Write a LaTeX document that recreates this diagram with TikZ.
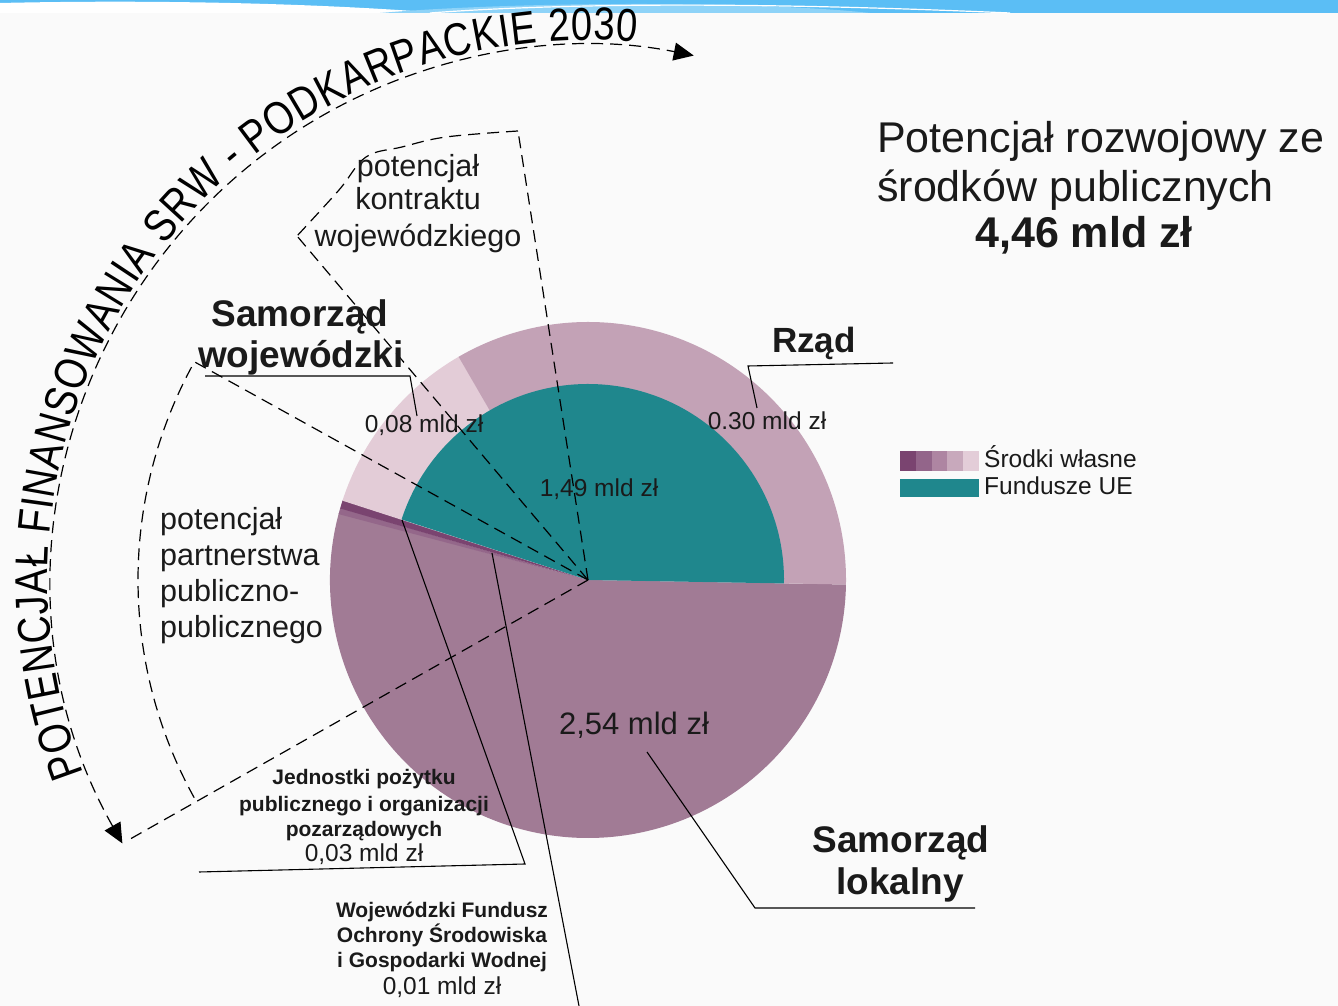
\documentclass[tikz,border=0pt]{standalone}
\usepackage{fontspec}
\setmainfont{Liberation Sans}
\newfontfamily\arcfont[FakeStretch=0.83]{Liberation Sans}
\newcommand\arcfmt{\arcfont\fontsize{46}{50}\selectfont}
\usetikzlibrary{arrows.meta,decorations.text}
\definecolor{bg}{HTML}{FAFAFA}
\definecolor{bandblue}{HTML}{5BBEF5}
\definecolor{bandlight}{HTML}{8ED3F8}
\definecolor{tealue}{HTML}{1F878D}
\definecolor{rzad}{HTML}{C3A2B6}
\definecolor{woj}{HTML}{E3CCD7}
\definecolor{lokal}{HTML}{A17B95}
\definecolor{jedn}{HTML}{7A4470}
\definecolor{wfos}{HTML}{94678A}
\definecolor{swA}{HTML}{7A4470}
\definecolor{swB}{HTML}{93658A}
\definecolor{swC}{HTML}{AE85A2}
\definecolor{swD}{HTML}{C8A9BC}
\definecolor{swE}{HTML}{E3CDD8}
\definecolor{ink}{HTML}{1A1A1A}
\tikzset{bigtri/.tip={Triangle[length=20pt,width=18pt]}}
\begin{document}
\begin{tikzpicture}[x=1pt,y=1pt,
  dsh/.style={draw=black, line width=1.2pt, dash pattern=on 12pt off 7pt},
  lead/.style={draw=black, line width=1.1pt},
  lbl/.style={inner sep=0pt, anchor=base, text=ink},
  val/.style={lbl, font=\fontsize{24.5}{29}\selectfont},
  pot/.style={lbl, font=\fontsize{30.5}{36}\selectfont},
  bigb/.style={lbl, font=\bfseries\fontsize{37}{42}\selectfont},
  smb/.style={lbl, font=\bfseries\fontsize{21}{25}\selectfont},
  tit/.style={lbl, font=\fontsize{43}{50}\selectfont}
]
\useasboundingbox (0,0) rectangle (1338,1006);
% background and top band
\fill[bg] (0,0) rectangle (1338,1006);
\fill[bandblue] (0,993) rectangle (1338,1006);
\fill[white] (0,993) -- (0,1003) .. controls (180,1007) and (340,1001) .. (440,993) -- cycle;
\fill[bandlight] (380,993) .. controls (520,1005) and (760,1005) .. (870,993) -- cycle;
\draw[white, line width=1.2pt] (430,993) .. controls (560,1003) and (760,1004) .. (1010,993);

\coordinate (O) at (588,426);

% pie
\fill[lokal] (O) -- ++(165:258) arc[start angle=165,end angle=359,radius=258pt] -- cycle;
\fill[wfos] (O) -- ++(163.8:258) arc[start angle=163.8,end angle=165.2,radius=258pt] -- cycle;
\fill[jedn] (O) -- ++(162:258) arc[start angle=162,end angle=163.9,radius=258pt] -- cycle;
\fill[woj] (O) -- ++(120:258) arc[start angle=120,end angle=162.1,radius=258pt] -- cycle;
\fill[rzad] (O) -- ++(-1:258) arc[start angle=-1,end angle=120.1,radius=258pt] -- cycle;
\fill[tealue] (O) -- ++(-1:196) arc[start angle=-1,end angle=162,radius=196pt] -- cycle;

% dashed sectors
\coordinate (k1) at (518,875);
\coordinate (k6) at (297,770);
\draw[dsh] (O) -- (k1);
\draw[dsh] (O) -- (k6);
\draw[dsh] plot[smooth, tension=0.6] coordinates {(518,875) (446,869) (402,859) (366,849) (339,816) (297,770)};
\draw[dsh] (O) -- ++(151:450) arc[start angle=151,end angle=209.5,radius=450pt];
\draw[dsh] (O) -- ++(209.5:528);
\draw[dsh, bigtri-bigtri] (O) ++(209.5:535) arc[start angle=209.5,end angle=78.6,radius=535pt];

% arc text
\path[decorate, decoration={text along path, text align={fit to path},
  text={|\arcfmt|POTENCJAŁ FINANSOWANIA SRW - PODKARPACKIE 2030}}]
  (O) ++(201:540) arc[start angle=201,end angle=84.8,radius=540pt];

% leader lines
\coordinate (rzP) at (757,598); \coordinate (rzK) at (748,640); \coordinate (rzE) at (893,643);
\draw[lead] (rzP) -- (rzK) -- (rzE);
\coordinate (wjS) at (205,630); \coordinate (wjK) at (410,630); \coordinate (wjP) at (417,590);
\draw[lead] (wjS) -- (wjK) -- (wjP);
\coordinate (lkP) at (647,254); \coordinate (lkK) at (755,98); \coordinate (lkE) at (975,98);
\draw[lead] (lkP) -- (lkK) -- (lkE);
\coordinate (jdS) at (199,134); \coordinate (jdK) at (525,142); \coordinate (jdP) at (402,486);
\draw[lead] (jdS) -- (jdK) -- (jdP);
\coordinate (wfE) at (579,0); \coordinate (wfP) at (492,453);
\draw[lead] (wfE) -- (wfP);

% title
\node[tit, anchor=base west] (t1) at (877,853) {Potencjał rozwojowy ze};
\node[tit, anchor=base west] (t2) at (877,804) {środków publicznych};
\node[tit, font=\bfseries\fontsize{43}{50}\selectfont] (t3) at (1084,758) {4,46 mld zł};

% legend
\fill[swA] (900,535) rectangle (915.8,555);
\fill[swB] (915.8,535) rectangle (931.6,555);
\fill[swC] (931.6,535) rectangle (947.4,555);
\fill[swD] (947.4,535) rectangle (963.2,555);
\fill[swE] (963.2,535) rectangle (979,555);
\fill[tealue] (900,509) rectangle (979,527);
\node[lbl, anchor=base west, font=\fontsize{24.5}{29}\selectfont] (lg1) at (984,538) {Środki własne};
\node[lbl, anchor=base west, font=\fontsize{24.5}{29}\selectfont] (lg2) at (984,511) {Fundusze UE};

% values in pie
\node[val] (v08) at (424,573) {0,08 mld zł};
\node[val] (v149) at (599,509) {1,49 mld zł};
\node[val] (v030) at (767,576) {0.30 mld zł};
\node[lbl, font=\fontsize{31}{36}\selectfont] (v254) at (634,271) {2,54 mld zł};

% bold labels
\node[lbl, font=\bfseries\fontsize{35}{40}\selectfont] (rz) at (814,653) {Rząd};
\node[bigb] (sw1) at (300,679) {Samorząd};
\node[bigb] (sw2) at (301,638) {wojewódzki};
\node[bigb] (sl1) at (901,153) {Samorząd};
\node[bigb] (sl2) at (900,111) {lokalny};

% potential labels
\node[pot] (pk1) at (418,829) {potencjał};
\node[pot] (pk2) at (418,796) {kontraktu};
\node[pot] (pk3) at (418,759) {wojewódzkiego};
\node[pot, anchor=base west] (pp1) at (160,476) {potencjał};
\node[pot, anchor=base west] (pp2) at (160,440) {partnerstwa};
\node[pot, anchor=base west] (pp3) at (160,404) {publiczno-};
\node[pot, anchor=base west] (pp4) at (160,368) {publicznego};

% lower labels
\node[smb] (j1) at (364,221) {Jednostki pożytku};
\node[smb] (j2) at (364,194) {publicznego i organizacji};
\node[smb] (j3) at (364,169) {pozarządowych};
\node[val] (j4) at (364,144) {0,03 mld zł};
\node[smb] (w1) at (442,88) {Wojewódzki Fundusz};
\node[smb] (w2) at (442,63) {Ochrony Środowiska};
\node[smb] (w3) at (442,38) {i Gospodarki Wodnej};
\node[val] (w4) at (442,11) {0,01 mld zł};
\end{tikzpicture}
\end{document}
